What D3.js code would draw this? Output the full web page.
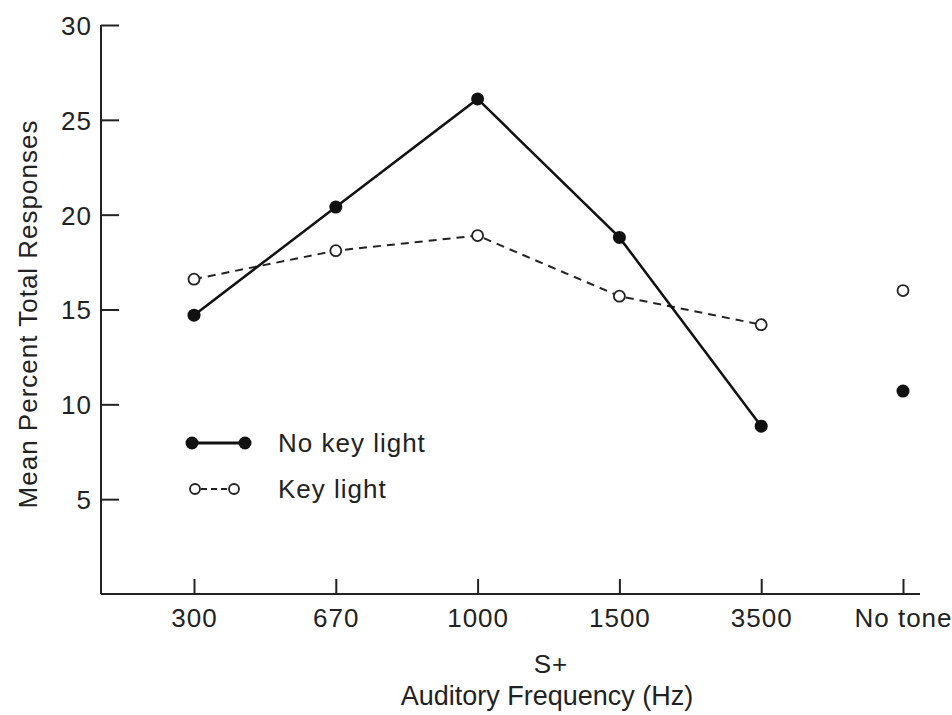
<!DOCTYPE html>
<head>
  <meta charset="utf-8">
  <script src="https://d3js.org/d3.v7.min.js"></script>
  <style>
    body { margin: 0; background: #fff; }
    svg text { font-family: "Liberation Sans", Arial, Helvetica, sans-serif; fill: #222; letter-spacing: 1px; }
    .axis path, .axis line { stroke: #222; stroke-width: 2; }
  </style>
</head>
<body>
  <svg width="952" height="715" id="chart"></svg>
  <script>
    // values
    const categories = ["300", "670", "1000", "1500", "3500", "No tone"];
    const noKeyLight = [14.7, 20.4, 26.1, 18.8, 8.85, 10.7];
    const keyLight = [16.6, 18.1, 18.9, 15.7, 14.2, 16.0];
    const yTicks = [5, 10, 15, 20, 25, 30];
    const connected = 5; // "No tone" stands alone

    const fs = 26;
    const svg = d3.select("#chart");

    const x = d3.scalePoint().domain(categories).range([194, 903]);
    const y = d3.scaleLinear().domain([0, 30]).range([594, 25]);
    const left = 101, right = 920;

    // y axis
    const yAxis = svg.append("g").attr("class", "axis")
      .attr("transform", `translate(${left},0)`)
      .call(d3.axisLeft(y).tickValues(yTicks).tickSize(-18).tickSizeOuter(0).tickPadding(9));
    yAxis.select(".domain").attr("d", `M0,${y(30)}V${y(0)}`);
    yAxis.selectAll("text").attr("font-size", fs).attr("fill", "#222").attr("dy", "0.36em");

    // x axis
    const xAxis = svg.append("g").attr("class", "axis")
      .attr("transform", `translate(0,${y(0)})`)
      .call(d3.axisBottom(x).tickSize(-15).tickSizeOuter(0));
    xAxis.select(".domain").attr("d", `M${left},0H${right}`);
    xAxis.selectAll("text").attr("font-size", fs).attr("fill", "#222").attr("y", 33).attr("dy", 0);

    // titles
    svg.append("text").attr("x", 551).attr("y", 673).attr("text-anchor", "middle")
      .attr("font-size", fs).text("S+");
    svg.append("text").attr("x", 547).attr("y", 705).attr("text-anchor", "middle")
      .attr("font-size", 27).style("letter-spacing", "0px").text("Auditory Frequency (Hz)");
    svg.append("text").attr("transform", "translate(37,314) rotate(-90)")
      .attr("text-anchor", "middle").attr("font-size", fs).text("Mean Percent Total Responses");

    const line = d3.line().x((d, i) => x(categories[i])).y(d => y(d));

    // key light (dashed, open)
    svg.append("path").datum(keyLight.slice(0, connected))
      .attr("d", line).attr("fill", "none").attr("stroke", "#222")
      .attr("stroke-width", 2).attr("stroke-dasharray", "8,6");
    // no key light (solid, filled)
    svg.append("path").datum(noKeyLight.slice(0, connected))
      .attr("d", line).attr("fill", "none").attr("stroke", "#111")
      .attr("stroke-width", 2.5);

    svg.selectAll(".open").data(keyLight).enter().append("circle")
      .attr("cx", (d, i) => x(categories[i])).attr("cy", d => y(d)).attr("r", 5.5)
      .attr("fill", "#fff").attr("stroke", "#222").attr("stroke-width", 1.8);
    svg.selectAll(".filled").data(noKeyLight).enter().append("circle")
      .attr("cx", (d, i) => x(categories[i])).attr("cy", d => y(d)).attr("r", 6.5)
      .attr("fill", "#111");

    // legend
    const lg = svg.append("g");
    lg.append("line").attr("x1", 192).attr("x2", 245).attr("y1", 443).attr("y2", 443)
      .attr("stroke", "#111").attr("stroke-width", 3);
    [192, 245].forEach(cx => lg.append("circle").attr("cx", cx).attr("cy", 443).attr("r", 6.5).attr("fill", "#111"));
    lg.append("text").attr("x", 278).attr("y", 452).attr("font-size", fs).text("No key light");

    lg.append("line").attr("x1", 195).attr("x2", 234).attr("y1", 489).attr("y2", 489)
      .attr("stroke", "#222").attr("stroke-width", 2).attr("stroke-dasharray", "6,4").attr("stroke-dashoffset", -6);
    [195, 234].forEach(cx => lg.append("circle").attr("cx", cx).attr("cy", 489).attr("r", 5)
      .attr("fill", "#fff").attr("stroke", "#222").attr("stroke-width", 1.8));
    lg.append("text").attr("x", 278).attr("y", 498).attr("font-size", fs).text("Key light");
  </script>
</body>
